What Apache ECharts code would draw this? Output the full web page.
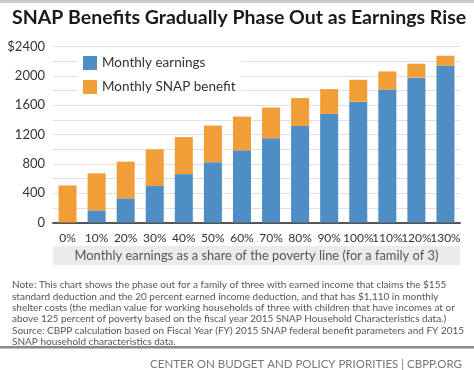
<!DOCTYPE html>
<html><head><meta charset="utf-8">
<script src="https://cdn.jsdelivr.net/npm/echarts@6/dist/echarts.min.js"></script>
<style>html,body{margin:0;padding:0;background:#fff}#c{width:474px;height:370px}</style>
</head><body><div id="c"></div>
<script>
const categories = ['0%','10%','20%','30%','40%','50%','60%','70%','80%','90%','100%','110%','120%','130%'];
const earnings = [0,165,330,497,660,822,985,1150,1315,1482,1648,1812,1975,2140];
const snapBenefit = [505,506,500,500,505,500,460,418,382,337,298,248,190,134];
const yTicks = [0,400,800,1200,1600,2000,2400];
const noteLines = [
  'Note: This chart shows the phase out for a family of three with earned income that claims the $155',
  'standard deduction and the 20 percent earned income deduction, and that has $1,110 in monthly',
  'shelter costs (the median value for working households of three with children that have incomes at or',
  'above 125 percent of poverty based on the fiscal year 2015 SNAP Household Characteristics data.)',
  'Source: CBPP calculation based on Fiscal Year (FY) 2015 SNAP federal benefit parameters and FY 2015',
  'SNAP household characteristics data.'
];
const noteY = [285, 296.3, 307.6, 318.9, 331, 342];

const font = 'Lato, "Open Sans", sans-serif';
const graphics = [
  {type:'rect', shape:{x:0,y:0,width:474,height:3}, style:{fill:'#c9c9c9'}, silent:true},
  {type:'text', x:12, y:17.5, style:{text:'SNAP Benefits Gradually Phase Out as Earnings Rise',
    font:'bold 19.5px '+font, fill:'#1a1a1a', verticalAlign:'middle'}},
  {type:'rect', shape:{x:53,y:246,width:407,height:19}, style:{fill:'#ebebeb'}, silent:true, z:0},
  {type:'text', x:256.5, y:255.5, style:{text:'Monthly earnings as a share of the poverty line (for a family of 3)',
    font:'12.9px '+font, fill:'#555', align:'center', verticalAlign:'middle'}},
  {type:'rect', shape:{x:0,y:346,width:474,height:2.5}, style:{fill:'#888'}, silent:true},
  {type:'text', x:462, y:364, style:{text:'CENTER ON BUDGET AND POLICY PRIORITIES | CBPP.ORG',
    font:'11.5px '+font, fill:'#777', align:'right', verticalAlign:'middle'}}
];
noteLines.forEach((t,i)=>graphics.push({type:'text', x:12, y:noteY[i],
  style:{text:t, font:'10px '+font, fill:'#555', verticalAlign:'middle'}}));

const chart = echarts.init(document.getElementById('c'));
chart.setOption({
  animation:false,
  backgroundColor:'#fff',
  textStyle:{fontFamily:font},
  grid:{left:53,right:14,top:46.5,bottom:147.5},
  legend:{
    orient:'vertical', left:77, top:51, padding:[5,6,5,6],
    backgroundColor:'#fff', itemWidth:14, itemHeight:14, itemGap:10,
    textStyle:{fontSize:13.5, color:'#333', fontFamily:font},
    data:[{name:'Monthly earnings',icon:'rect'},{name:'Monthly SNAP benefit',icon:'rect'}]
  },
  xAxis:{
    type:'category', data:categories,
    axisLine:{lineStyle:{color:'#555',width:2}},
    axisTick:{show:false},
    axisLabel:{interval:0, fontSize:12, color:'#333', margin:10, fontFamily:font}
  },
  yAxis:{
    type:'value', min:0, max:2400, interval:200,
    axisLine:{show:false}, axisTick:{show:false},
    splitLine:{lineStyle:{color:'#dcdfe4',width:1}},
    axisLabel:{fontSize:13, color:'#333', margin:8, fontFamily:font,
      formatter:v=> yTicks.indexOf(v)<0 ? '' : (v===2400 ? '$'+v : String(v))}
  },
  series:[
    {name:'Monthly earnings', type:'bar', stack:'t', data:earnings, barWidth:18,
      itemStyle:{color:'#4f8ec5'}},
    {name:'Monthly SNAP benefit', type:'bar', stack:'t', data:snapBenefit, barWidth:18,
      itemStyle:{color:'#f29e38'}}
  ],
  graphic:graphics
});
</script></body></html>
